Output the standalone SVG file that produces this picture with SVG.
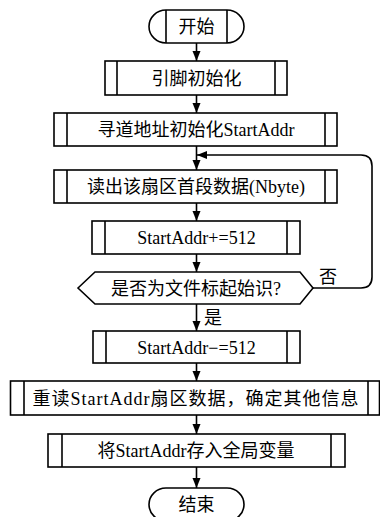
<svg xmlns="http://www.w3.org/2000/svg" width="380" height="517" viewBox="0 0 380 517">
<style>
.s{fill:#fff;stroke:#000;stroke-width:1.6}
.l{fill:none;stroke:#000;stroke-width:1.6}
.t{font-family:"Noto Sans CJK SC",sans-serif;font-size:18px;fill:#000;text-anchor:middle}
.e{font-family:"Liberation Serif","Times New Roman",serif;font-size:18px}
.c{fill:none;stroke:#000;stroke-width:1.6}
</style>
<defs>
<marker id="ah" markerUnits="userSpaceOnUse" markerWidth="10" markerHeight="10" refX="10" refY="4" orient="auto">
<path d="M0,0 L10,4 L0,8 Z" fill="#000"/>
</marker>
</defs>
<rect width="380" height="517" fill="#fff"/>
<g id="connectors">
<line class="c" x1="196.5" y1="43" x2="196.5" y2="61" marker-end="url(#ah)"/>
<line class="c" x1="196.5" y1="95" x2="196.5" y2="113" marker-end="url(#ah)"/>
<line class="c" x1="196.5" y1="146" x2="196.5" y2="170" marker-end="url(#ah)"/>
<line class="c" x1="196.5" y1="203" x2="196.5" y2="221" marker-end="url(#ah)"/>
<line class="c" x1="196.5" y1="254" x2="196.5" y2="272" marker-end="url(#ah)"/>
<line class="c" x1="196.5" y1="304" x2="196.5" y2="331" marker-end="url(#ah)"/>
<line class="c" x1="196.5" y1="363" x2="196.5" y2="381" marker-end="url(#ah)"/>
<line class="c" x1="196.5" y1="415" x2="196.5" y2="434" marker-end="url(#ah)"/>
<line class="c" x1="196.5" y1="467" x2="196.5" y2="488" marker-end="url(#ah)"/>
<path class="c" d="M313,288 H361 Q372,288 372,277 V166 Q372,155 361,155 H197" marker-end="url(#ah)"/>
<text class="t" x="328" y="283">否</text>
<text class="t" x="213" y="324">是</text>
</g>
<g id="start">
<path class="s" d="M166,10 H227 A17,16.5 0 0 1 227,43 H166 A17,16.5 0 0 1 166,10 Z"/>
<line class="l" x1="166" y1="10" x2="166" y2="43"/>
<line class="l" x1="227" y1="10" x2="227" y2="43"/>
<text class="t" x="196.5" y="33">开始</text>
</g>
<g id="n1">
<rect class="s" x="105" y="61" width="182" height="34"/>
<line class="l" x1="117" y1="61" x2="117" y2="95"/>
<line class="l" x1="275" y1="61" x2="275" y2="95"/>
<text class="t" x="196.5" y="84.5">引脚初始化</text>
</g>
<g id="n2">
<rect class="s" x="54" y="113" width="283" height="33"/>
<line class="l" x1="67" y1="113" x2="67" y2="146"/>
<line class="l" x1="325" y1="113" x2="325" y2="146"/>
<text class="t" x="196" y="136">寻道地址初始化<tspan class="e">StartAddr</tspan></text>
</g>
<g id="n3">
<rect class="s" x="54" y="170" width="283" height="33"/>
<line class="l" x1="67" y1="170" x2="67" y2="203"/>
<line class="l" x1="325" y1="170" x2="325" y2="203"/>
<text class="t" x="196" y="193">读出该扇区首段数据<tspan class="e">(Nbyte)</tspan></text>
</g>
<g id="n4">
<rect class="s" x="92" y="221" width="208" height="33"/>
<line class="l" x1="105" y1="221" x2="105" y2="254"/>
<line class="l" x1="287" y1="221" x2="287" y2="254"/>
<text class="t e" x="196.5" y="244">StartAddr+=512</text>
</g>
<g id="decision">
<path class="s" d="M78,288 L95,272 H300 L313,288 L300,304 H95 Z"/>
<text class="t" x="196" y="294.5">是否为文件标起始识<tspan class="e">?</tspan></text>
</g>
<g id="n5">
<rect class="s" x="93" y="331" width="207" height="32"/>
<line class="l" x1="106" y1="331" x2="106" y2="363"/>
<line class="l" x1="287" y1="331" x2="287" y2="363"/>
<text class="t e" x="196.5" y="353.5">StartAddr−=512</text>
</g>
<g id="n6">
<rect class="s" x="10.5" y="381" width="369" height="34"/>
<line class="l" x1="24" y1="381" x2="24" y2="415"/>
<line class="l" x1="368" y1="381" x2="368" y2="415"/>
<text class="t" x="196" y="404.5" letter-spacing="1">重读<tspan class="e">StartAddr</tspan>扇区数据，确定其他信息</text>
</g>
<g id="n7">
<rect class="s" x="48" y="434" width="297" height="33"/>
<line class="l" x1="62" y1="434" x2="62" y2="467"/>
<line class="l" x1="331" y1="434" x2="331" y2="467"/>
<text class="t" x="196" y="457">将<tspan class="e">StartAddr</tspan>存入全局变量</text>
</g>
<g id="end">
<path class="s" d="M166,488 H227 A17,16.5 0 0 1 227,521 H166 A17,16.5 0 0 1 166,488 Z"/>
<text class="t" x="196.5" y="510.5">结束</text>
</g>
</svg>
